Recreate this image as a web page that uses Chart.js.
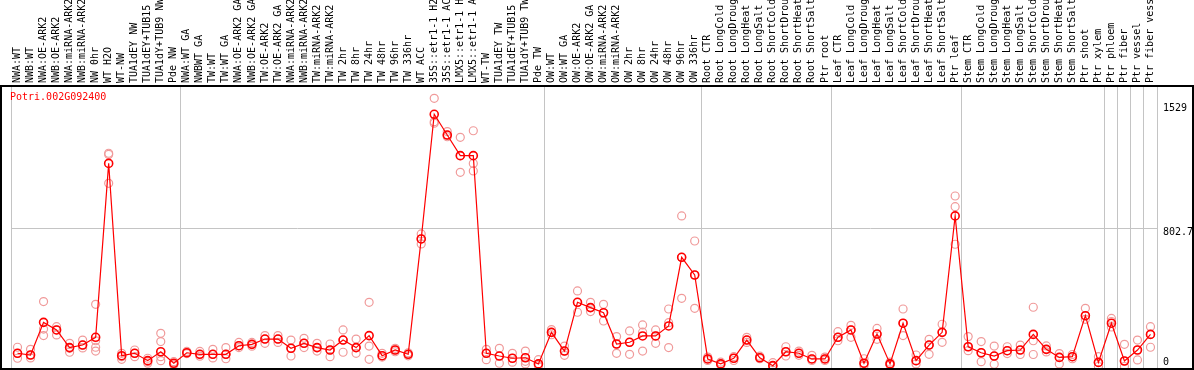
<!DOCTYPE html>
<html>
<head>
<meta charset="utf-8">
<script src="https://cdn.jsdelivr.net/npm/chart.js@4/dist/chart.umd.min.js"></script>
<style>
  html, body { margin: 0; padding: 0; background: #fff; }
  canvas { display: block; }
</style>
</head>
<body>
<canvas id="myChart" width="1194" height="370"></canvas>
<script>
let geneName = "Potri.002G092400";

let samples = [
  "NWA:WT", "NWB:WT", "NWA:OE-ARK2", "NWB:OE-ARK2", "NWA:miRNA-ARK2", "NWB:miRNA-ARK2",
  "NW 0hr", "WT H2O", "WT-NW", "TUA1dEY NW", "TUA1dEY+TUB15", "TUA1dY+TUB9 NW", "Pde NW",
  "NWA:WT GA", "NWBWT GA", "TW:WT", "TW:WT GA", "NWA:OE-ARK2 GA", "NWB:OE-ARK2 GA",
  "TW:OE-ARK2", "TW:OE-ARK2 GA", "NWA:miRNA-ARK2", "NWB:miRNA-ARK2", "TW:miRNA-ARK2",
  "TW:miRNA-ARK2", "TW 2hr", "TW 8hr", "TW 24hr", "TW 48hr", "TW 96hr", "TW 336hr",
  "WT ACC", "35S::etr1-1 H2", "35S::etr1-1 AC", "LMX5::etr1-1 H", "LMX5::etr1-1 A",
  "WT-TW", "TUA1dEY TW", "TUA1dEY+TUB15", "TUA1dY+TUB9 TW", "Pde TW",
  "OW:WT", "OW:WT GA", "OW:OE-ARK2", "OW:OE-ARK2 GA", "OW:miRNA-ARK2", "OW:miRNA-ARK2",
  "OW 2hr", "OW 8hr", "OW 24hr", "OW 48hr", "OW 96hr", "OW 336hr",
  "Root CTR", "Root LongCold", "Root LongDroug", "Root LongHeat", "Root LongSalt",
  "Root ShortCold", "Root ShortDrou", "Root ShortHeat", "Root ShortSalt", "Ptr root",
  "Leaf CTR", "Leaf LongCold", "Leaf LongDroug", "Leaf LongHeat", "Leaf LongSalt",
  "Leaf ShortCold", "Leaf ShortDrou", "Leaf ShortHeat", "Leaf ShortSalt", "Ptr leaf",
  "Stem CTR", "Stem LongCold", "Stem LongDroug", "Stem LongHeat", "Stem LongSalt",
  "Stem ShortCold", "Stem ShortDrou", "Stem ShortHeat", "Stem ShortSalt", "Ptr shoot",
  "Ptr xylem", "Ptr phloem", "Ptr fiber", "Ptr vessel", "Ptr fiber vessel"
];

// first sample index of each group (a grey separator is drawn before it)
let groupStarts = [0, 13, 41, 53, 63, 73, 84, 85, 86, 87];

let meanValues = [
  77, 67, 257, 213, 110, 125, 170, 1183, 63, 77,
  34, 86, 19, 80, 71, 71, 71, 121, 129, 160,
  160, 106, 135, 110, 96, 154, 110, 180, 63, 96,
  71, 743, 1469, 1348, 1228, 1228, 77, 61, 48, 51,
  15, 199, 90, 374, 343, 313, 131, 141, 178, 178,
  236, 636, 533, 44, 15, 48, 154, 51, 5, 86,
  77, 44, 44, 170, 213, 19, 189, 15, 252, 34,
  125, 199, 877, 115, 80, 61, 92, 96, 187, 100,
  53, 57, 296, 24, 252, 32, 96, 187
];

let rep1 = [
  112, 100, 378, 232, 135, 154, 362, 1242, 77, 96,
  48, 193, 28, 88, 88, 100, 110, 140, 140, 180,
  180, 154, 164, 135, 131, 213, 160, 374, 77, 106,
  80, 772, 1562, 1368, 1335, 1373, 100, 106, 77, 90,
  40, 215, 119, 440, 374, 362, 174, 207, 242, 213,
  335, 877, 731, 55, 25, 57, 170, 60, 22, 115,
  90, 65, 55, 203, 240, 45, 222, 25, 335, 67,
  158, 246, 993, 174, 145, 119, 115, 125, 345, 120,
  75, 70, 339, 57, 280, 129, 154, 232
];

let rep2 = [
  77, 67, 218, 213, 106, 125, 150, 1235, 57, 77,
  28, 145, 15, 80, 71, 71, 71, 121, 129, 160,
  160, 106, 135, 110, 96, 154, 110, 119, 63, 96,
  71, 743, 1426, 1348, 1228, 1183, 77, 61, 48, 51,
  15, 199, 90, 374, 343, 313, 131, 141, 200, 178,
  255, 636, 533, 44, 15, 48, 154, 51, 5, 86,
  77, 44, 44, 170, 213, 19, 189, 15, 252, 34,
  125, 199, 931, 115, 80, 61, 92, 96, 150, 100,
  53, 57, 296, 24, 262, 32, 96, 187
];

let rep3 = [
  48, 50, 180, 184, 83, 108, 112, 1067, 42, 57,
  19, 57, 10, 75, 60, 50, 45, 110, 118, 135,
  140, 61, 110, 90, 57, 83, 77, 42, 55, 86,
  62, 714, 1417, 1338, 1131, 1139, 40, 19, 25, 30,
  5, 185, 65, 316, 320, 265, 77, 71, 90, 135,
  110, 397, 339, 35, 8, 35, 140, 45, 0, 61,
  65, 35, 35, 150, 170, 5, 158, 8, 180, 15,
  71, 141, 712, 92, 28, 13, 75, 70, 70, 85,
  15, 45, 275, 0, 230, 0, 38, 112
];

let rep4 = samples.map(() => null);
rep4[6] = 90;
rep4[11] = 34;
rep4[39] = 15;

let yTickValues = [0, 802.7, 1529];
let yTickLabels = ["0", "802.7", "1529"];

const monoFont = { family: "DejaVu Sans Mono", size: 10 };
const gridGrey = "#c4c4c4";
const repColor = "#f09a9a";

const framePlugin = {
  id: "frame",
  afterDraw(chart) {
    const c = chart.ctx;
    c.save();
    c.strokeStyle = "#000";
    c.lineWidth = 2;
    c.strokeRect(1, 86, 1192, 283);
    c.fillStyle = "#ff0000";
    c.font = '10px "DejaVu Sans Mono"';
    c.textBaseline = "middle";
    c.fillText(geneName, 10, 97);
    c.restore();
  },
};

function repDataset(name, values) {
  return {
    label: name,
    data: values,
    showLine: false,
    pointRadius: 4,
    pointBorderWidth: 1.2,
    pointBorderColor: repColor,
    pointBackgroundColor: "rgba(0,0,0,0)",
  };
}

var ctx = document.getElementById("myChart").getContext("2d");
var myChart = new Chart(ctx, {
  type: "line",
  data: {
    labels: samples,
    datasets: [
      {
        label: "mean",
        data: meanValues,
        borderColor: "#ff0000",
        borderWidth: 1.2,
        tension: 0,
        pointRadius: 4,
        pointBorderWidth: 1.6,
        pointBorderColor: "#ff0000",
        pointBackgroundColor: "rgba(0,0,0,0)",
      },
      repDataset("rep1", rep1),
      repDataset("rep2", rep2),
      repDataset("rep3", rep3),
      repDataset("rep4", rep4),
    ],
  },
  options: {
    responsive: false,
    animation: false,
    layout: { autoPadding: false, padding: { left: 11, right: 0, top: 0, bottom: 0 } },
    plugins: { legend: { display: false }, tooltip: { enabled: false } },
    scales: {
      x: {
        position: "top",
        offset: true,
        grid: {
          offset: true,
          drawTicks: false,
          color: (c) =>
            c.index === undefined || groupStarts.includes(c.index)
              ? gridGrey
              : "rgba(0,0,0,0)",
        },
        border: { display: false },
        ticks: {
          autoSkip: false,
          minRotation: 90,
          maxRotation: 90,
          padding: 3,
          labelOffset: 12,
          color: "#000",
          font: monoFont,
        },
        afterFit: (s) => {
          s.height = 86;
          s.paddingLeft = 0;
          s.paddingRight = 0;
        },
      },
      y: {
        position: "right",
        min: -20.4,
        max: 1633.7,
        afterBuildTicks: (s) => {
          s.ticks = yTickValues.map((v) => ({ value: v }));
        },
        grid: {
          drawTicks: false,
          color: (c) =>
            c.tick && c.tick.value === 802.7 ? gridGrey : "rgba(0,0,0,0)",
        },
        border: { display: false },
        ticks: {
          padding: 6,
          labelOffset: 4,
          color: "#000",
          font: (c) => ({
            family: "DejaVu Sans Mono",
            size: 10,
            lineHeight: c.index === 0 ? 1.7 : 1.2,
          }),
          callback: (v, i) => (i === 0 ? [yTickLabels[0], ""] : yTickLabels[i]),
        },
        afterFit: (s) => {
          s.width = 37;
          s.paddingTop = 0;
          s.paddingBottom = 0;
        },
      },
    },
  },
  plugins: [framePlugin],
});
</script>
</body>
</html>
